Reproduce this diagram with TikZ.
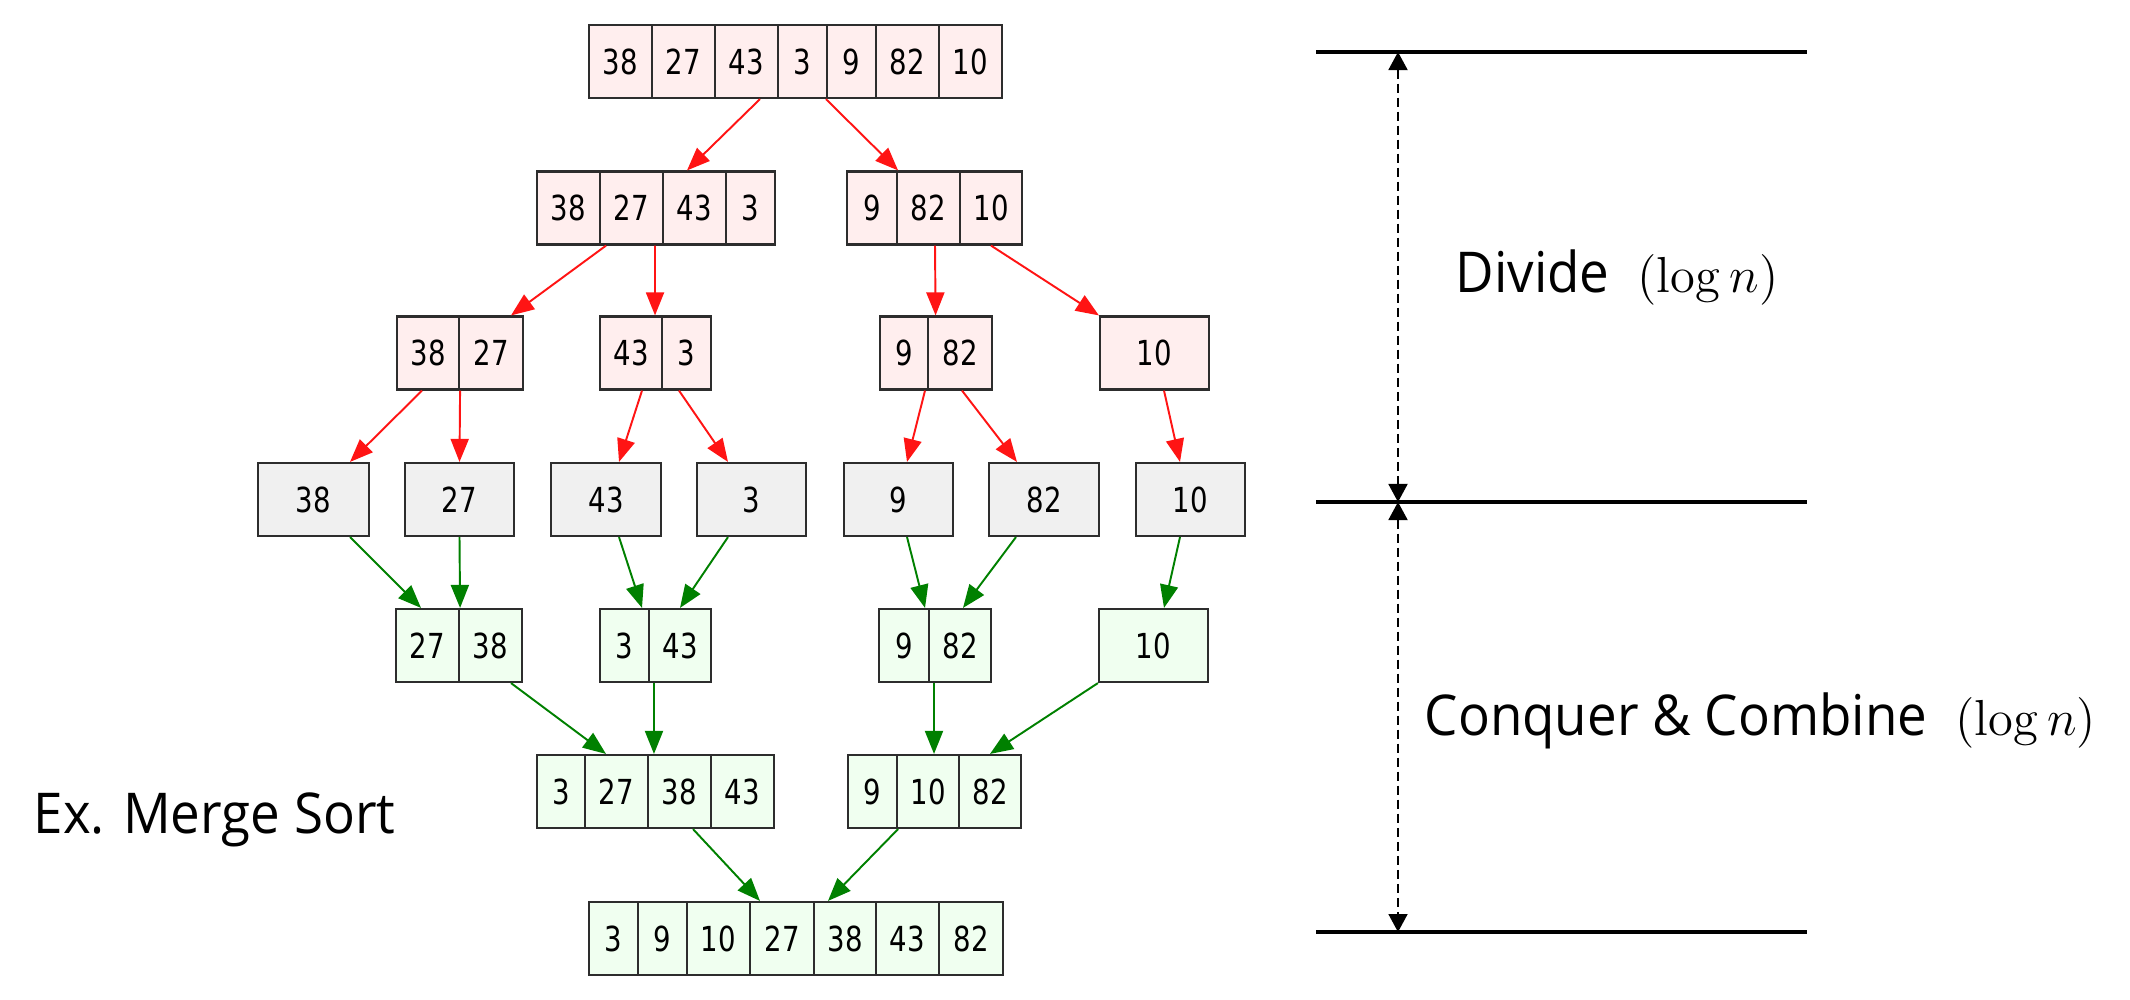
\documentclass[tikz,border=0pt]{standalone}
\usepackage[no-math]{fontspec}
\setmainfont{Open Sans}[FakeStretch=0.94]
\newfontfamily\numfont{DejaVu Sans}
\usepackage{graphicx}
\usetikzlibrary{arrows.meta}
\definecolor{pinkfill}{RGB}{255,238,238}
\definecolor{greyfill}{RGB}{240,240,240}
\definecolor{greenfill}{RGB}{240,255,240}
\definecolor{edgered}{RGB}{255,20,20}
\definecolor{edgegreen}{RGB}{0,128,0}
\definecolor{boxline}{RGB}{45,45,45}
\newcommand\mscell[6]{\node[cellbox,fill=#6,minimum width={(#3-#2)*0.28453pt}] (#1) at ({(#2+#3)/2},#4) {\scalebox{0.8}[1]{#5}};}
\newcommand\logn{{\fontsize{14.5}{17}\selectfont$(\log n)$}}
\begin{document}
\begin{tikzpicture}[x=0.01cm,y=-0.01cm,
  cellbox/.style={draw=boxline,line width=0.6pt,minimum height=0.73cm,inner sep=0pt,font=\numfont\fontsize{9.8}{11}\selectfont},
  redarrow/.style={draw=edgered,line width=0.55pt,-{Triangle[length=0.23cm,width=0.18cm]}},
  greenarrow/.style={draw=edgegreen,line width=0.55pt,-{Triangle[length=0.23cm,width=0.18cm]}},
  levelline/.style={line width=1.15pt,black},
  spanarrow/.style={line width=0.5pt,dash pattern=on 0.09cm off 0.05cm,{Triangle[length=0.18cm,width=0.19cm]}-{Triangle[length=0.18cm,width=0.19cm]}},
  label/.style={anchor=base west,inner sep=0pt,font=\fontsize{16}{19}\selectfont}]
\useasboundingbox (0,0) rectangle (2130,1000);
% row 1
\mscell{r1c1}{589}{652}{61.5}{38}{pinkfill}
\mscell{r1c2}{652}{715}{61.5}{27}{pinkfill}
\mscell{r1c3}{715}{778}{61.5}{43}{pinkfill}
\mscell{r1c4}{778}{827}{61.5}{3}{pinkfill}
\mscell{r1c5}{827}{876}{61.5}{9}{pinkfill}
\mscell{r1c6}{876}{939}{61.5}{82}{pinkfill}
\mscell{r1c7}{939}{1002}{61.5}{10}{pinkfill}
% row 2
\mscell{r2a1}{537}{600}{208}{38}{pinkfill}
\mscell{r2a2}{600}{663}{208}{27}{pinkfill}
\mscell{r2a3}{663}{726}{208}{43}{pinkfill}
\mscell{r2a4}{726}{775}{208}{3}{pinkfill}
\mscell{r2b1}{847}{897}{208}{9}{pinkfill}
\mscell{r2b2}{897}{960}{208}{82}{pinkfill}
\mscell{r2b3}{960}{1022}{208}{10}{pinkfill}
% row 3
\mscell{r3a1}{397}{459}{353}{38}{pinkfill}
\mscell{r3a2}{459}{523}{353}{27}{pinkfill}
\mscell{r3b1}{600}{662}{353}{43}{pinkfill}
\mscell{r3b2}{662}{711}{353}{3}{pinkfill}
\mscell{r3c1}{880}{928}{353}{9}{pinkfill}
\mscell{r3c2}{928}{992}{353}{82}{pinkfill}
\mscell{r3d1}{1100}{1209}{353}{10}{pinkfill}
% row 4
\mscell{r4a}{258}{369}{499.5}{38}{greyfill}
\mscell{r4b}{405}{514}{499.5}{27}{greyfill}
\mscell{r4c}{551}{661}{499.5}{43}{greyfill}
\mscell{r4d}{697}{806}{499.5}{3}{greyfill}
\mscell{r4e}{844}{953}{499.5}{9}{greyfill}
\mscell{r4f}{989}{1099}{499.5}{82}{greyfill}
\mscell{r4g}{1136}{1245}{499.5}{10}{greyfill}
% row 5
\mscell{r5a1}{396}{459}{645.5}{27}{greenfill}
\mscell{r5a2}{459}{522}{645.5}{38}{greenfill}
\mscell{r5b1}{600}{649}{645.5}{3}{greenfill}
\mscell{r5b2}{649}{711}{645.5}{43}{greenfill}
\mscell{r5c1}{879}{929}{645.5}{9}{greenfill}
\mscell{r5c2}{929}{991}{645.5}{82}{greenfill}
\mscell{r5d1}{1099}{1208}{645.5}{10}{greenfill}
% row 6
\mscell{r6a1}{537}{585}{791.5}{3}{greenfill}
\mscell{r6a2}{585}{648}{791.5}{27}{greenfill}
\mscell{r6a3}{648}{711}{791.5}{38}{greenfill}
\mscell{r6a4}{711}{774}{791.5}{43}{greenfill}
\mscell{r6b1}{848}{897}{791.5}{9}{greenfill}
\mscell{r6b2}{897}{959}{791.5}{10}{greenfill}
\mscell{r6b3}{959}{1021}{791.5}{82}{greenfill}
% row 7
\mscell{r7c1}{589}{638}{938.5}{3}{greenfill}
\mscell{r7c2}{638}{687}{938.5}{9}{greenfill}
\mscell{r7c3}{687}{750}{938.5}{10}{greenfill}
\mscell{r7c4}{750}{814}{938.5}{27}{greenfill}
\mscell{r7c5}{814}{876}{938.5}{38}{greenfill}
\mscell{r7c6}{876}{939}{938.5}{43}{greenfill}
\mscell{r7c7}{939}{1003}{938.5}{82}{greenfill}
% divide arrows
\draw[redarrow] ([xshift=0.135cm]r1c3.south) -- ([xshift=-0.075cm]r2a3.north);
\draw[redarrow] (r1c5.south west) -- (r2b1.north east);
\draw[redarrow] ([xshift=0.05cm]r2a1.south east) -- ([xshift=0.2cm]r3a2.north);
\draw[redarrow] ([xshift=0.235cm]r2a2.south) -- ([xshift=0.24cm]r3b1.north);
\draw[redarrow] ([xshift=0.065cm]r2b2.south) -- ([xshift=0.065cm]r3c1.north east);
\draw[redarrow] (r2b3.south) -- (r3d1.north west);
\draw[redarrow] ([xshift=-0.06cm]r3a1.south) -- ([xshift=0.365cm]r4a.north);
\draw[redarrow] (r3a1.south east) -- (r4b.north);
\draw[redarrow] ([xshift=0.11cm]r3b1.south) -- ([xshift=0.13cm]r4c.north);
\draw[redarrow] ([xshift=-0.075cm]r3b2.south) -- ([xshift=-0.235cm]r4d.north);
\draw[redarrow] ([xshift=0.21cm]r3c1.south) -- ([xshift=0.085cm]r4e.north);
\draw[redarrow] ([xshift=0.02cm]r3c2.south) -- ([xshift=-0.27cm]r4f.north);
\draw[redarrow] ([xshift=0.095cm]r3d1.south) -- ([xshift=-0.105cm]r4g.north);
% combine arrows
\draw[greenarrow] ([xshift=0.365cm]r4a.south) -- ([xshift=-0.065cm]r5a1.north);
\draw[greenarrow] (r4b.south) -- (r5a1.north east);
\draw[greenarrow] ([xshift=0.13cm]r4c.south) -- ([xshift=0.175cm]r5b1.north);
\draw[greenarrow] ([xshift=-0.235cm]r4d.south) -- (r5b2.north);
\draw[greenarrow] ([xshift=0.085cm]r4e.south) -- ([xshift=0.21cm]r5c1.north);
\draw[greenarrow] ([xshift=-0.28cm]r4f.south) -- ([xshift=0.03cm]r5c2.north);
\draw[greenarrow] ([xshift=-0.105cm]r4g.south) -- ([xshift=0.105cm]r5d1.north);
\draw[greenarrow] ([xshift=0.205cm]r5a2.south) -- ([xshift=-0.105cm]r6a2.north);
\draw[greenarrow] ([xshift=-0.26cm]r5b2.south) -- ([xshift=-0.255cm]r6a3.north);
\draw[greenarrow] ([xshift=-0.26cm]r5c2.south) -- ([xshift=0.06cm]r6b2.north);
\draw[greenarrow] (r5d1.south west) -- (r6b3.north);
\draw[greenarrow] ([xshift=0.135cm]r6a3.south) -- ([xshift=-0.22cm]r7c4.north);
\draw[greenarrow] (r6b1.south east) -- ([xshift=-0.17cm]r7c5.north);
% level lines
\coordinate (t1) at (1316,52);  \coordinate (t2) at (1807,52);
\coordinate (m1) at (1316,502); \coordinate (m2) at (1807,502);
\coordinate (b1) at (1316,932); \coordinate (b2) at (1807,932);
\coordinate (dt) at (1398,52); \coordinate (dm) at (1398,502); \coordinate (db) at (1398,932);
\draw[levelline] (t1) -- (t2);
\draw[levelline] (m1) -- (m2);
\draw[levelline] (b1) -- (b2);
\draw[spanarrow] (dt) -- (dm);
\draw[spanarrow] (dm) -- (db);
% labels
\node[label] (divide) at (1455,292) {Divide\hspace{8pt}\logn};
\node[label] (conquer) at (1424,735) {Conquer \& Combine\hspace{8pt}\logn};
\node[label] (example) at (33,833) {Ex. Merge Sort};
\end{tikzpicture}
\end{document}
